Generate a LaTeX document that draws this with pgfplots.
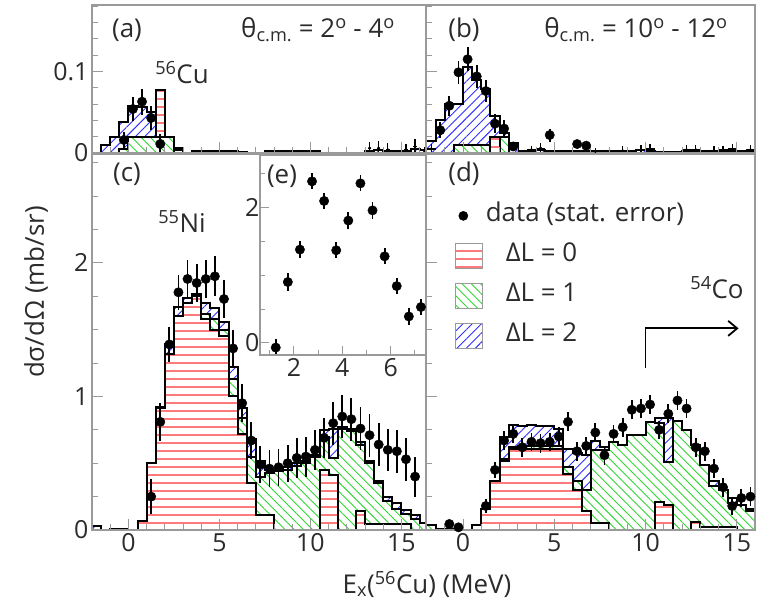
\documentclass[border=0pt]{standalone}
\usepackage{pgfplots}
\pgfplotsset{compat=1.18}
\usepackage{pgfplotstable}
\usepackage{fontspec}
\setmainfont{Open Sans}
\usetikzlibrary{patterns.meta,arrows.meta}

\definecolor{txt}{HTML}{2B2B2B}
\definecolor{hred}{HTML}{FF7A7A}
\definecolor{hgreen}{HTML}{2FD82F}
\definecolor{hblue}{HTML}{3030FF}
\definecolor{frm}{HTML}{9A9A9A}

\tikzset{
  redfill/.style={draw=none, fill=white, postaction={pattern={Lines[angle=0,distance=8bp,line width=1.3bp]}, pattern color=hred}},
  greenfill/.style={draw=none, fill=white, postaction={pattern={Lines[angle=-45,distance=6.5bp,line width=0.9bp]}, pattern color=hgreen}},
  bluefill/.style={draw=none, fill=white, postaction={pattern={Lines[angle=45,distance=6.5bp,line width=0.9bp]}, pattern color=hblue}},
}

\newcommand{\bigf}{\fontsize{26}{30}\selectfont}
\newcommand{\tickf}{\fontsize{25}{29}\selectfont}

\pgfplotsset{
  every axis/.append style={
    scale only axis,
    axis line style={draw=frm, line width=1.3bp},
    tick style={draw=frm, line width=1.0bp},
    tick align=inside,
    tick pos=left,
    major tick length=11bp,
    minor tick length=6bp,
    tick label style={font=\tickf, text=txt},
    /pgf/number format/assume math mode=true,
    axis on top,
  },
  stepline/.style={const plot, black, line width=2.0bp},
  datapts/.style={only marks, mark=*, mark size=4.7bp, black,
    error bars/.cd, y dir=both, y explicit, error mark=none,
    error bar style={line width=1.8bp, black}},
  smallpts/.style={only marks, mark=*, mark size=1.3bp, black,
    error bars/.cd, y dir=both, y explicit, x dir=both, x explicit, error mark=none,
    error bar style={line width=1.2bp, black}},
}

% ---------- panel (a): columns g (green), gr (green+red), t (total)
\pgfplotstableread{
x g gr t
-2.0 0 0 0
-1.5 0 0 0.010
-1.0 0 0 0.020
-0.5 0.005 0.005 0.038
0.0 0.020 0.020 0.058
0.5 0.020 0.020 0.057
1.0 0.020 0.020 0.050
1.5 0.020 0.077 0.077
2.0 0.020 0.020 0.020
2.5 0 0.004 0.006
3.0 0 0 0
3.5 0 0 0.002
4.0 0 0 0.002
4.5 0 0 0.002
5.0 0 0 0.002
5.5 0 0 0.002
6.0 0 0 0.001
6.5 0 0 0
7.0 0 0 0
7.5 0 0 0.002
8.0 0 0 0.002
8.5 0 0 0.002
9.0 0 0 0.002
9.5 0 0 0.003
10.0 0 0 0.003
10.5 0 0 0
11.0 0 0 0
11.5 0 0 0
12.0 0 0 0
12.5 0 0 0
13.0 0 0 0.003
13.5 0 0 0.004
14.0 0 0 0.002
14.5 0 0 0.003
15.0 0 0 0.002
15.5 0 0 0.005
16.0 0 0 0.004
16.5 0 0 0.004
}\tabA
\pgfplotstableread{
x y e
-0.25 0.016 0.010
0.25 0.054 0.015
0.75 0.063 0.016
1.25 0.043 0.015
1.75 0.011 0.012
}\datA
\pgfplotstableread{
x y e ex
13.25 0.006 0.008 0.1
13.75 0.006 0.009 0.1
14.25 0.004 0.008 0.1
15.25 0.004 0.007 0.1
15.75 0.008 0.009 0.1
16.25 0.003 0.004 0.1
}\datAs

% ---------- panel (b)
\pgfplotstableread{
x g gr t
-2.0 0 0 0.015
-1.5 0 0 0.040
-1.0 0 0 0.060
-0.5 0.010 0.010 0.060
0.0 0.010 0.010 0.106
0.5 0.010 0.010 0.090
1.0 0.010 0.010 0.079
1.5 0 0.020 0.045
2.0 0.020 0.020 0.024
2.5 0 0 0.012
3.0 0 0 0.002
3.5 0 0 0.003
4.0 0 0 0.004
4.5 0 0 0.002
5.0 0 0 0.002
5.5 0 0 0.003
6.0 0 0 0.002
6.5 0 0 0.002
7.0 0 0 0.002
7.5 0 0 0.002
8.0 0 0 0.002
8.5 0 0 0.003
9.0 0 0 0.003
9.5 0 0 0.004
10.0 0 0 0.003
10.5 0 0 0.001
11.0 0 0 0.001
11.5 0 0 0.001
12.0 0 0 0.003
12.5 0 0 0.003
13.0 0 0 0.002
13.5 0 0 0.002
14.0 0 0 0.003
14.5 0 0 0.003
15.0 0 0 0.002
15.5 0 0 0.003
16.0 0 0 0.003
16.5 0 0 0.003
}\tabB
\pgfplotstableread{
x y e
-1.25 0.028 0.010
-0.75 0.058 0.012
-0.25 0.099 0.014
0.25 0.115 0.015
0.75 0.094 0.014
1.25 0.076 0.013
1.75 0.036 0.012
2.25 0.030 0.011
2.75 0.008 0.004
4.75 0.022 0.008
6.25 0.011 0.005
6.75 0.009 0.005
}\datB
\pgfplotstableread{
x y e ex
-1.75 0.005 0.006 0.25
3.75 0.004 0.005 0.25
4.25 0.006 0.006 0.25
7.25 0.002 0.004 0.25
8.75 0.003 0.005 0.25
9.75 0.004 0.006 0.25
10.25 0.005 0.006 0.25
12.25 0.004 0.006 0.25
12.75 0.004 0.006 0.25
13.75 0.003 0.005 0.25
14.25 0.004 0.005 0.25
14.75 0.005 0.006 0.25
15.75 0.004 0.006 0.25
}\datBs

% ---------- panel (c): r (red), rg (red+green), t (total)
\pgfplotstableread{
x r rg t
-2.0 0 0 0.03
-1.5 0 0 0
-1.0 0 0 0.01
-0.5 0 0 0.01
0.0 0 0 0
0.5 0.07 0.07 0.07
1.0 0.50 0.50 0.50
1.5 0.91 0.91 0.92
2.0 1.32 1.32 1.39
2.5 1.60 1.60 1.67
3.0 1.70 1.70 1.74
3.5 1.75 1.76 1.77
4.0 1.58 1.62 1.70
4.5 1.50 1.58 1.66
5.0 1.45 1.50 1.56
5.5 1.00 1.13 1.22
6.0 0.72 0.84 0.91
6.5 0.35 0.55 0.68
7.0 0.11 0.40 0.52
7.5 0.11 0.43 0.45
8.0 0 0.44 0.45
8.5 0 0.45 0.47
9.0 0 0.48 0.50
9.5 0 0.50 0.52
10.0 0 0.55 0.56
10.5 0.45 0.70 0.75
11.0 0.41 0.54 0.76
11.5 0 0.76 0.77
12.0 0 0.74 0.76
12.5 0.14 0.64 0.66
13.0 0.045 0.50 0.52
13.5 0.045 0.35 0.37
14.0 0.045 0.22 0.25
14.5 0.045 0.16 0.20
15.0 0.045 0.12 0.15
15.5 0 0.08 0.11
16.0 0 0.05 0.05
16.5 0 0.05 0.05
}\tabC
\pgfplotstableread{
x y e
1.25 0.25 0.13
1.75 0.81 0.14
2.25 1.39 0.13
2.75 1.78 0.13
3.25 1.88 0.14
3.75 1.85 0.14
4.25 1.88 0.14
4.75 1.90 0.15
5.25 1.73 0.14
5.75 1.36 0.14
6.25 0.95 0.14
6.75 0.67 0.14
7.25 0.49 0.14
7.75 0.46 0.14
8.25 0.47 0.14
8.75 0.50 0.14
9.25 0.54 0.15
9.75 0.55 0.15
10.25 0.60 0.15
10.75 0.69 0.15
11.25 0.80 0.16
11.75 0.85 0.16
12.25 0.83 0.16
12.75 0.76 0.16
13.25 0.71 0.16
13.75 0.64 0.16
14.25 0.60 0.16
14.75 0.59 0.16
15.25 0.53 0.16
15.75 0.40 0.15
}\datC

% ---------- panel (d)
\pgfplotstableread{
x r rg t
-2.0 0 0.04 0.04
-1.5 0 0.01 0.01
-1.0 0 0 0.01
-0.5 0 0 0.01
0.0 0 0 0
0.5 0.04 0.04 0.04
1.0 0.16 0.16 0.16
1.5 0.37 0.37 0.37
2.0 0.52 0.53 0.70
2.5 0.61 0.62 0.79
3.0 0.61 0.63 0.78
3.5 0.61 0.63 0.79
4.0 0.61 0.63 0.78
4.5 0.61 0.63 0.78
5.0 0.61 0.63 0.76
5.5 0.42 0.47 0.61
6.0 0.30 0.37 0.58
6.5 0.14 0.30 0.56
7.0 0.05 0.60 0.67
7.5 0.05 0.60 0.62
8.0 0 0.66 0.66
8.5 0 0.64 0.64
9.0 0 0.71 0.71
9.5 0 0.71 0.71
10.0 0 0.81 0.81
10.5 0.21 0.80 0.84
11.0 0.19 0.51 0.84
11.5 0 0.82 0.82
12.0 0 0.75 0.75
12.5 0.06 0.64 0.64
13.0 0.025 0.49 0.49
13.5 0.025 0.33 0.37
14.0 0.025 0.30 0.30
14.5 0.025 0.20 0.24
15.0 0 0.19 0.19
15.5 0 0.14 0.16
16.0 0 0.12 0.12
16.5 0 0.12 0.12
}\tabD
\pgfplotstableread{
x y e
-0.75 0.045 0.03
-0.25 0.02 0.02
1.25 0.18 0.05
1.75 0.45 0.06
2.25 0.67 0.07
2.75 0.72 0.07
3.25 0.62 0.07
3.75 0.66 0.07
4.25 0.65 0.07
4.75 0.66 0.07
5.25 0.70 0.07
5.75 0.81 0.07
6.25 0.59 0.07
6.75 0.63 0.07
7.25 0.73 0.07
7.75 0.56 0.07
8.25 0.72 0.07
8.75 0.77 0.07
9.25 0.90 0.07
9.75 0.91 0.07
10.25 0.94 0.07
10.75 0.75 0.07
11.25 0.87 0.07
11.75 0.97 0.07
12.25 0.91 0.07
12.75 0.62 0.07
13.25 0.59 0.07
13.75 0.46 0.07
14.25 0.32 0.07
14.75 0.18 0.07
15.25 0.24 0.07
15.75 0.25 0.07
}\datD

% ---------- inset (e)
\pgfplotstableread{
x y e
1.25 -0.07 0.12
1.75 0.90 0.13
2.25 1.38 0.13
2.75 2.39 0.12
3.25 2.10 0.12
3.75 1.37 0.12
4.25 1.81 0.12
4.75 2.36 0.12
5.25 1.96 0.12
5.75 1.28 0.12
6.25 0.84 0.12
6.75 0.39 0.12
7.25 0.53 0.12
}\datE

\begin{document}
\begin{tikzpicture}[font=\bigf, text=txt]
\useasboundingbox (0,0) rectangle (757bp,603bp);

% ===== (a)
\begin{axis}[at={(92bp,450bp)}, anchor=south west, width=334bp, height=148bp,
  xmin=-2, xmax=16.35, ymin=0, ymax=0.1816,
  xtick={0,5,10,15}, minor xtick={-2,-1,...,16}, xticklabels={},
  ytick={0,0.1}, yticklabels={0,0.1}, minor ytick={0.02,0.04,0.06,0.08,0.12,0.14,0.16,0.18}]
  \addplot[const plot, bluefill] table[x=x,y=t]{\tabA} \closedcycle;
  \addplot[const plot, redfill] table[x=x,y=gr]{\tabA} \closedcycle;
  \addplot[const plot, greenfill] table[x=x,y=g]{\tabA} \closedcycle;
  \addplot[stepline] table[x=x,y=g]{\tabA};
  \addplot[stepline] table[x=x,y=gr]{\tabA};
  \addplot[stepline] table[x=x,y=t]{\tabA};
  \addplot[smallpts] table[x=x,y=y,y error=e,x error=ex]{\datAs};
  \addplot[datapts] table[x=x,y=y,y error=e]{\datA};
\end{axis}

% ===== (b)
\begin{axis}[at={(426bp,450bp)}, anchor=south west, width=329bp, height=148bp,
  xmin=-2.03, xmax=16.0, ymin=0, ymax=0.1816,
  xtick={0,5,10,15}, minor xtick={-2,-1,...,16}, xticklabels={},
  ytick={0,0.1}, yticklabels={}, minor ytick={0.02,0.04,0.06,0.08,0.12,0.14,0.16,0.18}]
  \addplot[const plot, bluefill] table[x=x,y=t]{\tabB} \closedcycle;
  \addplot[const plot, redfill] table[x=x,y=gr]{\tabB} \closedcycle;
  \addplot[const plot, greenfill] table[x=x,y=g]{\tabB} \closedcycle;
  \addplot[stepline] table[x=x,y=g]{\tabB};
  \addplot[stepline] table[x=x,y=gr]{\tabB};
  \addplot[stepline] table[x=x,y=t]{\tabB};
  \addplot[smallpts] table[x=x,y=y,y error=e,x error=ex]{\datBs};
  \addplot[datapts] table[x=x,y=y,y error=e]{\datB};
\end{axis}

% ===== (c)
\begin{axis}[at={(92bp,73bp)}, anchor=south west, width=334bp, height=376bp,
  xmin=-2, xmax=16.35, ymin=0, ymax=2.816,
  xtick={0,5,10,15}, minor xtick={-2,-1,...,16},
  ytick={0,1,2}, minor ytick={0.25,0.5,0.75,1.25,1.5,1.75,2.25,2.5,2.75}]
  \addplot[const plot, bluefill] table[x=x,y=t]{\tabC} \closedcycle;
  \addplot[const plot, greenfill] table[x=x,y=rg]{\tabC} \closedcycle;
  \addplot[const plot, redfill] table[x=x,y=r]{\tabC} \closedcycle;
  \addplot[stepline] table[x=x,y=r]{\tabC};
  \addplot[stepline] table[x=x,y=rg]{\tabC};
  \addplot[stepline] table[x=x,y=t]{\tabC};
  \addplot[datapts] table[x=x,y=y,y error=e]{\datC};
\end{axis}

% ===== (d)
\begin{axis}[at={(426bp,73bp)}, anchor=south west, width=329bp, height=376bp,
  xmin=-2.03, xmax=16.0, ymin=0, ymax=2.816,
  xtick={0,5,10,15}, minor xtick={-2,-1,...,16},
  ytick={0,1,2}, yticklabels={}, minor ytick={0.25,0.5,0.75,1.25,1.5,1.75,2.25,2.5,2.75},
  legend cell align=left,
  legend style={at={(axis cs:-0.45,2.45)}, anchor=north west, draw=none, fill=none,
    font=\bigf, inner sep=0pt, outer sep=0pt, row sep=14bp,
    nodes={inner xsep=3bp, inner ysep=0pt, text height=19bp, text depth=7bp, text=txt}}]
  \addplot[forget plot, const plot, bluefill] table[x=x,y=t]{\tabD} \closedcycle;
  \addplot[forget plot, const plot, greenfill] table[x=x,y=rg]{\tabD} \closedcycle;
  \addplot[forget plot, const plot, redfill] table[x=x,y=r]{\tabD} \closedcycle;
  \addplot[forget plot, stepline] table[x=x,y=r]{\tabD};
  \addplot[forget plot, stepline] table[x=x,y=rg]{\tabD};
  \addplot[forget plot, stepline] table[x=x,y=t]{\tabD};
  \addplot[forget plot, datapts] table[x=x,y=y,y error=e]{\datD};
  \draw[line width=1.8bp, -{Straight Barb[length=9bp,width=15bp,line width=1.8bp]}]
    (axis cs:10,1.21) -- (axis cs:10,1.51) -- (axis cs:15.1,1.51);
  \addlegendimage{legend image code/.code={\fill[black] (8bp,0) circle (4.6bp);}}
  \addlegendentry{data (stat. error)}
  \addlegendimage{legend image code/.code={\path[redfill] (0,-12.5bp) rectangle (27bp,12.5bp); \draw[frm, line width=1bp] (0,-12.5bp) rectangle (27bp,12.5bp);}}
  \addlegendentry{\kern20bp ΔL = 0}
  \addlegendimage{legend image code/.code={\path[greenfill] (0,-12.5bp) rectangle (27bp,12.5bp); \draw[frm, line width=1bp] (0,-12.5bp) rectangle (27bp,12.5bp);}}
  \addlegendentry{\kern20bp ΔL = 1}
  \addlegendimage{legend image code/.code={\path[bluefill] (0,-12.5bp) rectangle (27bp,12.5bp); \draw[frm, line width=1bp] (0,-12.5bp) rectangle (27bp,12.5bp);}}
  \addlegendentry{\kern20bp ΔL = 2}
\end{axis}

% ===== (e) inset
\begin{axis}[at={(260bp,248bp)}, anchor=south west, width=166bp, height=200bp,
  xmin=0.6, xmax=7.46, ymin=-0.18, ymax=2.78,
  axis background/.style={fill=white},
  xtick={2,4,6}, minor xtick={1,3,5,7},
  ytick={0,2}, minor ytick={0.5,1,1.5,2.5},
  major tick length=9bp, minor tick length=5bp,
  yticklabel style={xshift=3bp}]
  \addplot[datapts] table[x=x,y=y,y error=e]{\datE};
\end{axis}

% ===== texts
\node at (127bp,573bp) {(a)};
\node at (318bp,573bp) {θ\textsubscript{c.m.} = 2\textsuperscript{o} - 4\textsuperscript{o}};
\node at (182bp,530bp) {\textsuperscript{56}Cu};
\node at (464bp,573bp) {(b)};
\node at (636bp,573bp) {θ\textsubscript{c.m.} = 10\textsuperscript{o} - 12\textsuperscript{o}};
\node at (127bp,429bp) {(c)};
\node at (182bp,381bp) {\textsuperscript{55}Ni};
\node at (282bp,427bp) {(e)};
\node at (464bp,429bp) {(d)};
\node at (717bp,315bp) {\textsuperscript{54}Co};
\node at (427bp,19bp) {E\textsubscript{x}(\textsuperscript{56}Cu) (MeV)};
\node[rotate=90] at (36bp,311bp) {dσ/dΩ (mb/sr)};
\end{tikzpicture}
\end{document}
